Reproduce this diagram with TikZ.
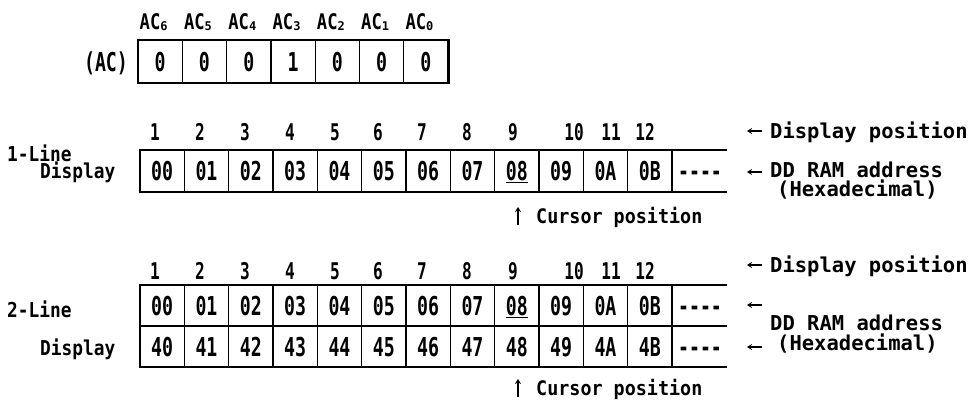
\documentclass[tikz,border=0pt]{standalone}
\usepackage{fontspec}
\usetikzlibrary{arrows.meta}
\newfontfamily\fMono{DejaVu Sans Mono Bold}
\newfontfamily\fDig[FakeStretch=0.7]{DejaVu Sans Mono Bold}
\newfontfamily\fLab[FakeStretch=0.87]{DejaVu Sans Mono Bold}
\newfontfamily\fCur[FakeStretch=0.92]{DejaVu Sans Mono Bold}
\newfontfamily\fAc[FakeStretch=0.8]{DejaVu Sans Mono Bold}
\newcommand\acsub[1]{\raisebox{-1pt}{\fontsize{12}{12}\selectfont\fMono #1}}
\begin{document}
\begin{tikzpicture}[x=1pt,y=-1pt,
  txt/.style={inner sep=0pt, text depth=0pt},
  celltxt/.style={txt, text height=19pt, font=\fontsize{26}{26}\selectfont\fDig},
  numtxt/.style={txt, text height=16.8pt, font=\fontsize{23}{23}\selectfont\fDig},
  rtxt/.style={txt, text height=15pt, font=\fontsize{20.5}{20.5}\selectfont\fMono, anchor=west},
  ltxt/.style={txt, text height=15pt, font=\fontsize{20.5}{20.5}\selectfont\fLab, anchor=west},
  ctxt/.style={txt, text height=14.6pt, font=\fontsize{20}{20}\selectfont\fCur, anchor=west},
  actxt/.style={txt, text height=15.3pt, font=\fontsize{21.5}{21.5}\selectfont\fAc, anchor=west},
  arrowln/.style={line width=1.3pt, -{Stealth[length=5pt,width=6pt]}},
  outerln/.style={line width=2.8pt},
  innerln/.style={line width=1.3pt}]
\useasboundingbox (0,0) rectangle (977,399);
\def\cw{44.33}
% ---- AC register
\foreach \v [count=\i from 0] in {0,0,0,1,0,0,0}
  \node[celltxt] (ac\i) at ({138+44.3*(\i+0.5)},61.5) {\v};
\foreach \i in {1,...,6} \draw[innerln] ({138+44.3*\i},40) -- ({138+44.3*\i},83);
\draw[outerln] (138,40) rectangle ({138+44.3*7},83);
\foreach \s [count=\i from 0] in {6,5,4,3,2,1,0}
  \node[actxt] (acl\i) at ({139.5+44.3*\i},22) {AC\acsub{\s}};
\node[celltxt] (acname) at (106,61.5) {(AC)};
% ---- 1-line display
\foreach \v [count=\i from 0] in {00,01,02,03,04,05,06,07,{\underline{08}},09,0A,0B}
  \node[celltxt] (a\i) at ({140+\cw*(\i+0.5)},171) {\v};
\node[celltxt] (adash) at (700,171) {----};
\foreach \i in {1,...,12} \draw[innerln] ({140+\cw*\i},150) -- ({140+\cw*\i},192);
\draw[outerln] (727,150) -- (140,150) -- (140,192) -- (727,192);
\foreach \x [count=\i] in {155,200,245,290,335,378,422,467,513,574,611,645}
  \node[numtxt] (p\i) at (\x,132) {\i};
\node[ltxt] (l1a) at (7,154) {1-Line};
\node[ltxt] (l1b) at (40,171) {Display};
\node[rtxt] (dp1) at (770,131) {Display position};
\node[rtxt] (dd1) at (770,170) {DD RAM address};
\node[rtxt] (hx1) at (777,189) {(Hexadecimal)};
\coordinate (ar1s) at (762,131); \coordinate (ar1e) at (747,131);
\coordinate (ar2s) at (762,172); \coordinate (ar2e) at (747,172);
\draw[arrowln] (ar1s) -- (ar1e);
\draw[arrowln] (ar2s) -- (ar2e);
\node[ctxt] (cu1) at (536,216) {Cursor position};
\coordinate (cu1s) at (518,225); \coordinate (cu1e) at (518,207);
\draw[arrowln] (cu1s) -- (cu1e);
% ---- 2-line display
\foreach \v [count=\i from 0] in {00,01,02,03,04,05,06,07,{\underline{08}},09,0A,0B}
  \node[celltxt] (b\i) at ({140+\cw*(\i+0.5)},305.5) {\v};
\node[celltxt] (bdash) at (700,305.5) {----};
\foreach \v [count=\i from 0] in {40,41,42,43,44,45,46,47,48,49,4A,4B}
  \node[celltxt] (c\i) at ({140+\cw*(\i+0.5)},346.5) {\v};
\node[celltxt] (cdash) at (700,346.5) {----};
\foreach \i in {1,...,12} \draw[innerln] ({140+\cw*\i},285) -- ({140+\cw*\i},367);
\draw[outerln] (727,285) -- (140,285) -- (140,367) -- (727,367);
\draw[outerln] (140,326) -- (727,326);
\foreach \x [count=\i] in {155,200,245,290,335,378,422,467,513,574,611,645}
  \node[numtxt] (q\i) at (\x,271) {\i};
\node[ltxt] (l2a) at (7,310) {2-Line};
\node[ltxt] (l2b) at (40,348) {Display};
\node[rtxt] (dp2) at (770,265) {Display position};
\node[rtxt] (dd2) at (770,323) {DD RAM address};
\node[rtxt] (hx2) at (777,343) {(Hexadecimal)};
\coordinate (ar3s) at (762,265); \coordinate (ar3e) at (747,265);
\coordinate (ar4s) at (762,305); \coordinate (ar4e) at (747,305);
\coordinate (ar5s) at (762,347); \coordinate (ar5e) at (747,347);
\draw[arrowln] (ar3s) -- (ar3e);
\draw[arrowln] (ar4s) -- (ar4e);
\draw[arrowln] (ar5s) -- (ar5e);
\node[ctxt] (cu2) at (536,388) {Cursor position};
\coordinate (cu2s) at (518,397); \coordinate (cu2e) at (518,379);
\draw[arrowln] (cu2s) -- (cu2e);
\end{tikzpicture}
\end{document}
